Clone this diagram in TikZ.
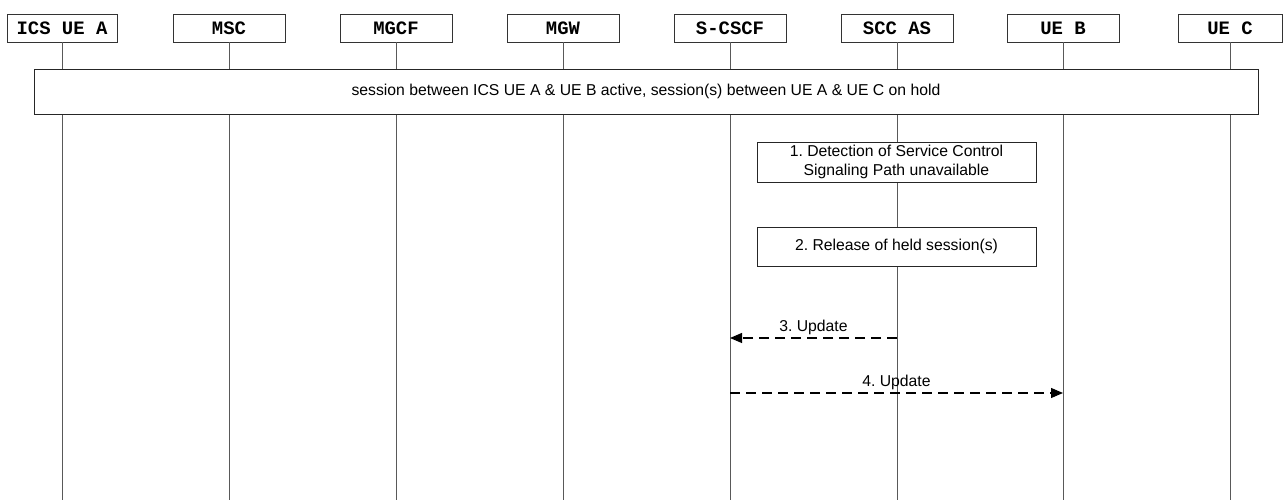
\documentclass[tikz,border=0pt]{standalone}
\usepackage{fontspec}
\setmainfont{Liberation Sans}
\newfontfamily\monob{Liberation Mono}
\usetikzlibrary{arrows.meta}
\frenchspacing
\begin{document}
\begin{tikzpicture}[x=1bp,y=-1bp,
  ent/.style={draw=black!80, line width=0.9bp, fill=white, minimum height=28bp, minimum width=112bp, inner sep=0pt, font=\monob\bfseries\fontsize{19}{21}\selectfont},
  life/.style={draw=black!65, line width=0.9bp},
  actbox/.style={draw=black!85, line width=0.9bp, fill=white, inner sep=0pt, align=center, font=\fontsize{15.8}{19}\selectfont},
  msg/.style={line width=1.1bp, dash pattern=on 10bp off 6bp, -{Triangle[length=12bp,width=10bp]}},
  lbl/.style={font=\fontsize{15.8}{18}\selectfont, inner sep=0pt}
]
\useasboundingbox (0,0) rectangle (1286,500);
% entities
\node[ent, minimum width=110bp] (ics) at (62,28) {ICS UE A};
\node[ent] (msc) at (229,28) {MSC};
\node[ent] (mgcf) at (396,28) {MGCF};
\node[ent] (mgw) at (563,28) {MGW};
\node[ent] (scscf) at (730,28) {S-CSCF};
\node[ent] (scc) at (897,28) {SCC AS};
\node[ent] (ueb) at (1063,28) {UE B};
\node[ent, minimum width=104bp] (uec) at (1230,28) {UE C};
\coordinate (bot) at (0,500);
% lifelines
\foreach \n in {ics,msc,mgcf,mgw,scscf,scc,ueb,uec}
  \draw[life] (\n.south) -- (\n |- bot);
% session box
\node[actbox, minimum width=1224bp, minimum height=45bp] (sess) at (646,91.5)
  {session between ICS UE A \& UE B active, session(s) between UE A \& UE C on hold};
% step boxes
\node[actbox, minimum width=279bp, minimum height=40bp] (s1) at (896.5,162)
  {1. Detection of Service Control\\Signaling Path unavailable};
\node[actbox, minimum width=279bp, minimum height=39bp] (s2) at (896.5,246.5)
  {2. Release of held session(s)};
% messages
\coordinate (m3s) at (scc |- 0,338);
\coordinate (m3e) at (scscf |- 0,338);
\coordinate (m4s) at (scscf |- 0,393);
\coordinate (m4e) at (ueb |- 0,393);
\draw[msg] (m3s) -- (m3e) node[midway, lbl, anchor=base, yshift=6bp] {3. Update};
\draw[msg] (m4s) -- (m4e) node[midway, lbl, anchor=base, yshift=6bp] {4. Update};
\end{tikzpicture}
\end{document}
